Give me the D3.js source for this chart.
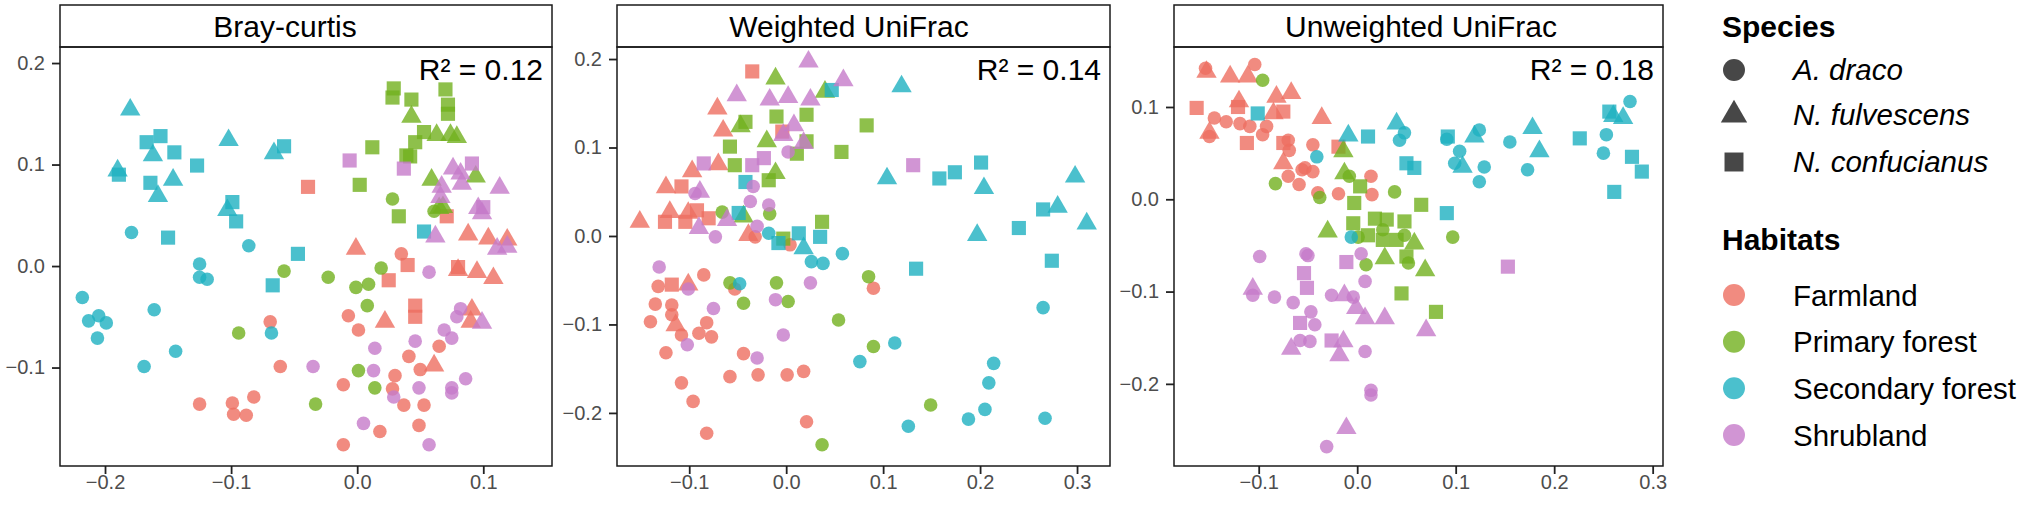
<!DOCTYPE html>
<html>
<head>
<meta charset="utf-8">
<script src="https://cdn.jsdelivr.net/npm/d3@7"></script>
<style>
  body { margin: 0; background: #fff; }
  svg { display: block; font-family: "Liberation Sans", Arial, sans-serif; }
</style>
</head>
<body>
<svg id="chart" width="2032" height="509"></svg>
<script>
// categories
const habitats = ["Farmland", "Primary forest", "Secondary forest", "Shrubland"];
const habitatColors = ["#EE6E60", "#72B01E", "#1EB0C0", "#C67BC9"];
const species = ["A. draco", "N. fulvescens", "N. confucianus"];
const speciesCodes = ["c", "t", "s"]; // circle, triangle, square

const panelTitles = ["Bray-curtis", "Weighted UniFrac", "Unweighted UniFrac"];
const r2Values = ["0.12", "0.14", "0.18"];
const xTickValues = [[-0.2, -0.1, 0, 0.1], [-0.1, 0, 0.1, 0.2, 0.3], [-0.1, 0, 0.1, 0.2, 0.3]];
const yTickValues = [[-0.1, 0, 0.1, 0.2], [-0.2, -0.1, 0, 0.1, 0.2], [-0.2, -0.1, 0, 0.1]];

// ---- Bray-curtis: [x, y, species]
const brayFarmland = [
  [-0.125,-0.136,"c"],[-0.099,-0.135,"c"],[-0.098,-0.146,"c"],[-0.088,-0.147,"c"],[-0.082,-0.129,"c"],
  [-0.069,-0.055,"c"],[-0.061,-0.099,"c"],[0.035,0.012,"c"],[-0.007,-0.049,"c"],[0.001,-0.063,"c"],
  [0.041,-0.089,"c"],[0.065,-0.079,"c"],[0.050,-0.102,"c"],[0.030,-0.108,"c"],[0.028,-0.121,"c"],
  [0.037,-0.137,"c"],[0.053,-0.137,"c"],[-0.011,-0.117,"c"],[0.018,-0.163,"c"],[0.049,-0.157,"c"],
  [-0.011,-0.176,"c"],
  [-0.039,0.078,"s"],[0.040,0.001,"s"],[0.025,-0.014,"s"],[0.046,-0.039,"s"],[0.046,-0.050,"s"],
  [0.071,0.049,"s"],[0.080,-0.001,"s"],
  [-0.001,0.017,"t"],[0.022,-0.055,"t"],[0.061,-0.098,"t"],[0.088,0.031,"t"],[0.104,0.027,"t"],
  [0.119,0.026,"t"],[0.080,-0.004,"t"],[0.095,-0.006,"t"],[0.108,-0.012,"t"],[0.091,-0.043,"t"],
  [0.090,-0.055,"t"]
];
const brayPrimary = [
  [-0.094,-0.066,"c"],[-0.058,-0.005,"c"],[-0.023,-0.011,"c"],[-0.001,-0.021,"c"],[0.009,-0.018,"c"],
  [0.019,-0.002,"c"],[0.008,-0.039,"c"],[0.001,-0.103,"c"],[0.014,-0.120,"c"],[-0.033,-0.136,"c"],
  [0.028,0.066,"c"],[0.061,0.054,"c"],
  [0.029,0.175,"s"],[0.028,0.166,"s"],[0.043,0.164,"s"],[0.070,0.174,"s"],[0.072,0.159,"s"],
  [0.072,0.150,"s"],[0.053,0.132,"s"],[0.046,0.122,"s"],[0.012,0.117,"s"],[0.039,0.109,"s"],
  [0.042,0.108,"s"],[0.002,0.080,"s"],[0.033,0.049,"s"],
  [0.043,0.147,"t"],[0.063,0.129,"t"],[0.074,0.129,"t"],[0.079,0.127,"t"],[0.059,0.085,"t"],
  [0.065,0.057,"t"],[0.094,0.088,"t"],[0.068,0.058,"t"]
];
const braySecondary = [
  [-0.179,0.033,"c"],[-0.086,0.020,"c"],[-0.125,0.002,"c"],[-0.125,-0.011,"c"],[-0.119,-0.013,"c"],
  [-0.218,-0.031,"c"],[-0.161,-0.043,"c"],[-0.213,-0.054,"c"],[-0.205,-0.049,"c"],[-0.199,-0.056,"c"],
  [-0.206,-0.071,"c"],[-0.144,-0.084,"c"],[-0.169,-0.099,"c"],[-0.068,-0.066,"c"],
  [-0.167,0.122,"s"],[-0.156,0.128,"s"],[-0.145,0.112,"s"],[-0.189,0.090,"s"],[-0.127,0.099,"s"],
  [-0.164,0.082,"s"],[-0.099,0.063,"s"],[-0.096,0.044,"s"],[-0.150,0.028,"s"],[-0.058,0.118,"s"],
  [-0.047,0.012,"s"],[-0.067,-0.019,"s"],[0.053,0.034,"s"],
  [-0.180,0.154,"t"],[-0.162,0.109,"t"],[-0.190,0.094,"t"],[-0.102,0.124,"t"],[-0.146,0.085,"t"],
  [-0.158,0.069,"t"],[-0.103,0.055,"t"],[-0.066,0.111,"t"]
];
const brayShrubland = [
  [0.057,-0.006,"c"],[0.014,-0.081,"c"],[0.046,-0.074,"c"],[0.069,-0.063,"c"],[0.075,-0.071,"c"],
  [0.079,-0.050,"c"],[-0.035,-0.099,"c"],[0.013,-0.103,"c"],[0.029,-0.129,"c"],[0.049,-0.120,"c"],
  [0.075,-0.120,"c"],[0.005,-0.155,"c"],[0.057,-0.176,"c"],[0.082,-0.042,"c"],[0.086,-0.111,"c"],
  [0.075,-0.125,"c"],
  [-0.006,0.104,"s"],[0.037,0.096,"s"],[0.091,0.101,"s"],[0.100,0.058,"s"],
  [0.066,0.068,"t"],[0.062,0.029,"t"],[0.082,0.091,"t"],[0.076,0.096,"t"],[0.083,0.081,"t"],
  [0.113,0.077,"t"],[0.067,0.078,"t"],[0.096,0.057,"t"],[0.099,0.052,"t"],[0.111,0.017,"t"],
  [0.119,0.019,"t"],[0.099,-0.056,"t"]
];

// ---- Weighted UniFrac
const weightedFarmland = [
  [-0.132,-0.057,"c"],[-0.135,-0.077,"c"],[-0.140,-0.097,"c"],[-0.124,-0.132,"c"],[-0.032,-0.001,"c"],
  [0.004,-0.010,"c"],[-0.085,-0.044,"c"],[-0.118,-0.078,"c"],[-0.118,-0.089,"c"],[-0.108,-0.112,"c"],
  [-0.090,-0.110,"c"],[-0.082,-0.098,"c"],[-0.077,-0.114,"c"],[-0.053,-0.060,"c"],[-0.044,-0.133,"c"],
  [-0.058,-0.159,"c"],[-0.029,-0.157,"c"],[0.001,-0.157,"c"],[0.018,-0.153,"c"],[-0.108,-0.166,"c"],
  [-0.096,-0.187,"c"],[-0.082,-0.223,"c"],[0.021,-0.210,"c"],[0.090,-0.059,"c"],
  [-0.125,0.016,"s"],[-0.035,0.186,"s"],[-0.108,0.056,"s"],[-0.104,0.016,"s"],[-0.092,0.029,"s"],
  [-0.080,0.020,"s"],[-0.004,0.118,"s"],[-0.118,-0.055,"s"],
  [-0.151,0.016,"t"],[-0.124,0.055,"t"],[-0.071,0.144,"t"],[-0.065,0.119,"t"],[-0.070,0.081,"t"],
  [-0.097,0.073,"t"],[-0.120,0.027,"t"],[-0.101,0.026,"t"],[-0.039,0.001,"t"],[-0.101,-0.055,"t"],
  [-0.114,-0.101,"t"]
];
const weightedPrimary = [
  [-0.066,0.027,"c"],[-0.017,0.025,"c"],[-0.058,-0.053,"c"],[-0.044,-0.076,"c"],[-0.010,-0.053,"c"],
  [0.002,-0.074,"c"],[0.054,-0.095,"c"],[0.085,-0.046,"c"],[0.090,-0.125,"c"],[0.037,-0.236,"c"],
  [0.149,-0.191,"c"],
  [-0.042,0.129,"s"],[-0.010,0.135,"s"],[0.021,0.137,"s"],[0.083,0.125,"s"],[-0.058,0.101,"s"],
  [0.011,0.093,"s"],[0.021,0.107,"s"],[0.057,0.095,"s"],[-0.053,0.080,"s"],[-0.018,0.063,"s"],
  [0.037,0.016,"s"],[-0.003,-0.003,"s"],
  [-0.011,0.178,"t"],[0.040,0.163,"t"],[-0.047,0.124,"t"],[-0.020,0.107,"t"],[-0.011,0.071,"t"],
  [-0.044,0.022,"t"]
];
const weightedSecondary = [
  [-0.018,0.003,"c"],[0.026,-0.029,"c"],[0.038,-0.031,"c"],[0.058,-0.020,"c"],[-0.048,-0.054,"c"],
  [0.076,-0.142,"c"],[0.265,-0.081,"c"],[0.112,-0.121,"c"],[0.214,-0.144,"c"],[0.209,-0.166,"c"],
  [0.205,-0.196,"c"],[0.188,-0.207,"c"],[0.126,-0.215,"c"],[0.267,-0.206,"c"],
  [0.047,0.165,"s"],[-0.042,0.061,"s"],[-0.049,0.026,"s"],[-0.008,-0.008,"s"],[0.013,0.003,"s"],
  [0.035,-0.001,"s"],[0.158,0.065,"s"],[0.174,0.072,"s"],[0.201,0.083,"s"],[0.265,0.030,"s"],
  [0.240,0.009,"s"],[0.274,-0.028,"s"],[0.134,-0.037,"s"],
  [0.018,-0.014,"t"],[0.119,0.169,"t"],[0.104,0.065,"t"],[0.204,0.054,"t"],[0.298,0.067,"t"],
  [0.280,0.033,"t"],[0.310,0.014,"t"],[0.197,0.001,"t"]
];
const weightedShrubland = [
  [0.002,0.095,"c"],[-0.034,0.056,"c"],[-0.094,0.048,"c"],[-0.037,0.039,"c"],[-0.018,0.035,"c"],
  [-0.073,-0.001,"c"],[-0.030,0.011,"c"],[-0.131,-0.035,"c"],[0.025,-0.053,"c"],[-0.101,-0.060,"c"],
  [-0.011,-0.072,"c"],[-0.075,-0.082,"c"],[-0.003,-0.112,"c"],[-0.102,-0.123,"c"],[-0.030,-0.138,"c"],
  [-0.085,0.082,"s"],[-0.035,0.080,"s"],[-0.023,0.088,"s"],[0.131,0.080,"s"],
  [0.023,0.197,"t"],[0.059,0.176,"t"],[-0.051,0.159,"t"],[-0.017,0.154,"t"],[0.002,0.157,"t"],
  [0.025,0.154,"t"],[0.008,0.125,"t"],[-0.003,0.114,"t"],[0.018,0.105,"t"],[-0.089,0.050,"t"],
  [-0.061,0.018,"t"],[-0.090,0.009,"t"]
];

// ---- Unweighted UniFrac
const unweightedFarmland = [
  [-0.154,0.142,"c"],[-0.104,0.146,"c"],[-0.145,0.088,"c"],[-0.133,0.084,"c"],[-0.150,0.068,"c"],
  [-0.119,0.082,"c"],[-0.109,0.079,"c"],[-0.096,0.070,"c"],[-0.092,0.079,"c"],[-0.070,0.064,"c"],
  [-0.069,0.053,"c"],[-0.056,0.032,"c"],[-0.070,0.025,"c"],[-0.059,0.016,"c"],[-0.045,0.059,"c"],
  [-0.053,0.034,"c"],[-0.045,0.030,"c"],[-0.040,0.007,"c"],[-0.019,0.006,"c"],[0.014,0.025,"c"],
  [0.015,0.005,"c"],
  [-0.163,0.099,"s"],[-0.121,0.100,"s"],[-0.112,0.061,"s"],[-0.075,0.095,"s"],[-0.075,0.061,"s"],
  [-0.019,0.057,"s"],
  [-0.153,0.138,"t"],[-0.129,0.133,"t"],[-0.111,0.133,"t"],[-0.150,0.072,"t"],[-0.120,0.106,"t"],
  [-0.082,0.111,"t"],[-0.067,0.115,"t"],[-0.085,0.093,"t"],[-0.075,0.039,"t"],[-0.036,0.088,"t"]
];
const unweightedPrimary = [
  [-0.096,0.129,"c"],[-0.083,0.017,"c"],[-0.038,0.002,"c"],[-0.008,0.025,"c"],[0.038,0.008,"c"],
  [0.001,-0.041,"c"],[0.026,-0.033,"c"],[0.048,-0.039,"c"],[0.097,-0.041,"c"],[0.009,-0.071,"c"],
  [0.052,-0.069,"c"],
  [0.003,0.014,"s"],[-0.003,-0.004,"s"],[0.065,-0.006,"s"],[-0.004,-0.026,"s"],[0.018,-0.021,"s"],
  [0.030,-0.022,"s"],[0.048,-0.024,"s"],[0.011,-0.039,"s"],[0.026,-0.044,"s"],[0.040,-0.044,"s"],
  [0.050,-0.062,"s"],[0.045,-0.102,"s"],[0.080,-0.122,"s"],
  [-0.014,0.052,"t"],[-0.013,0.028,"t"],[-0.030,-0.035,"t"],[0.058,-0.048,"t"],[0.028,-0.064,"t"],
  [0.069,-0.077,"t"]
];
const unweightedSecondary = [
  [-0.041,0.046,"c"],[0.043,0.064,"c"],[0.048,0.072,"c"],[-0.006,-0.041,"c"],[0.091,0.065,"c"],
  [0.104,0.052,"c"],[0.099,0.039,"c"],[0.124,0.075,"c"],[0.129,0.035,"c"],[0.124,0.019,"c"],
  [0.155,0.062,"c"],[0.173,0.032,"c"],[0.277,0.106,"c"],[0.253,0.070,"c"],[0.250,0.050,"c"],
  [-0.101,0.093,"s"],[0.011,0.068,"s"],[0.050,0.039,"s"],[0.058,0.034,"s"],[0.091,-0.015,"s"],
  [0.092,0.068,"s"],[0.256,0.095,"s"],[0.226,0.066,"s"],[0.279,0.046,"s"],[0.289,0.030,"s"],
  [0.261,0.008,"s"],
  [-0.009,0.069,"t"],[0.040,0.082,"t"],[0.107,0.035,"t"],[0.119,0.068,"t"],[0.178,0.077,"t"],
  [0.185,0.052,"t"],[0.260,0.090,"t"],[0.270,0.088,"t"]
];
const unweightedShrubland = [
  [-0.099,-0.062,"c"],[-0.106,-0.104,"c"],[-0.084,-0.106,"c"],[-0.065,-0.112,"c"],[-0.052,-0.059,"c"],
  [-0.058,-0.153,"c"],[-0.048,-0.154,"c"],[-0.050,-0.061,"c"],[0.004,-0.059,"c"],[0.008,-0.089,"c"],
  [-0.026,-0.104,"c"],[-0.004,-0.106,"c"],[-0.047,-0.122,"c"],[-0.043,-0.136,"c"],[0.008,-0.165,"c"],
  [0.014,-0.207,"c"],[0.014,-0.212,"c"],[-0.031,-0.268,"c"],
  [-0.054,-0.080,"s"],[-0.051,-0.096,"s"],[-0.058,-0.134,"s"],[-0.011,-0.068,"s"],[-0.026,-0.153,"s"],
  [0.153,-0.073,"s"],
  [-0.106,-0.097,"t"],[-0.067,-0.162,"t"],[-0.013,-0.104,"t"],[-0.001,-0.118,"t"],[0.008,-0.129,"t"],
  [0.028,-0.129,"t"],[-0.014,-0.154,"t"],[-0.018,-0.169,"t"],[0.070,-0.142,"t"],[-0.011,-0.248,"t"]
];

const panelData = [
  [brayFarmland, brayPrimary, braySecondary, brayShrubland],
  [weightedFarmland, weightedPrimary, weightedSecondary, weightedShrubland],
  [unweightedFarmland, unweightedPrimary, unweightedSecondary, unweightedShrubland]
];

// ---- layout
const plotTop = 47, plotBottom = 466, stripTop = 5;
const panels = [
  { left: 60,  right: 552,  xDom: [-0.2357, 0.1545], yDom: [-0.197, 0.2158], titleX: 285 },
  { left: 617, right: 1110, xDom: [-0.1745, 0.334],  yDom: [-0.26, 0.2136],  titleX: 849 },
  { left: 1174, right: 1663, xDom: [-0.186, 0.3105], yDom: [-0.289, 0.165],  titleX: 1421 }
];
const pointAlpha = 0.8;
const symbolType = { c: d3.symbolCircle, t: d3.symbolTriangle, s: d3.symbolSquare };
const symbolSize = { c: 145, t: 180, s: 200 };
const fmt = d3.format(".1f");

const svg = d3.select("#chart");

panels.forEach((p, i) => {
  const x = d3.scaleLinear().domain(p.xDom).range([p.left, p.right]);
  const y = d3.scaleLinear().domain(p.yDom).range([plotBottom, plotTop]);
  const g = svg.append("g");

  // strip
  g.append("rect")
   .attr("x", p.left).attr("y", stripTop)
   .attr("width", p.right - p.left).attr("height", plotTop - stripTop)
   .attr("fill", "#fff").attr("stroke", "#1a1a1a").attr("stroke-width", 1.5);
  g.append("text")
   .attr("x", p.titleX).attr("y", 37)
   .attr("text-anchor", "middle")
   .attr("font-size", 30).attr("fill", "#000")
   .text(panelTitles[i]);

  // axes
  const xAxis = g.append("g")
    .attr("transform", `translate(0,${plotBottom})`)
    .call(d3.axisBottom(x).tickValues(xTickValues[i]).tickFormat(fmt).tickSize(8).tickPadding(1));
  const yAxis = g.append("g")
    .attr("transform", `translate(${p.left},0)`)
    .call(d3.axisLeft(y).tickValues(yTickValues[i]).tickFormat(fmt).tickSize(8).tickPadding(7));
  [xAxis, yAxis].forEach(ax => {
    ax.select(".domain").remove();
    ax.selectAll(".tick line").attr("stroke", "#222").attr("stroke-width", 1.8);
    ax.selectAll(".tick text").attr("font-size", 20).attr("fill", "#4d4d4d")
      .attr("font-family", "Liberation Sans, Arial, sans-serif");
  });

  // points
  panelData[i].forEach((pts, h) => {
    g.append("g").selectAll("path")
     .data(pts)
     .join("path")
     .attr("transform", d => `translate(${x(d[0])},${y(d[1])})`)
     .attr("d", d => d3.symbol().type(symbolType[d[2]]).size(symbolSize[d[2]])())
     .attr("fill", habitatColors[h])
     .attr("fill-opacity", pointAlpha);
  });

  // border
  g.append("rect")
   .attr("x", p.left).attr("y", plotTop)
   .attr("width", p.right - p.left).attr("height", plotBottom - plotTop)
   .attr("fill", "none").attr("stroke", "#1a1a1a").attr("stroke-width", 1.5);

  g.append("text")
   .attr("x", p.right - 9).attr("y", 80)
   .attr("text-anchor", "end")
   .attr("font-size", 30).attr("fill", "#000")
   .text(`R\u00B2 = ${r2Values[i]}`);
});

// ---- legend
const legend = svg.append("g");
const symX = 1734, textX = 1793;
legend.append("text")
  .attr("x", 1722).attr("y", 37)
  .attr("font-size", 30).attr("font-weight", "bold").text("Species");
const speciesY = [70, 115, 162];
const legendSymSize = { c: 380, t: 300, s: 360 };
species.forEach((s, k) => {
  const code = speciesCodes[k];
  legend.append("path")
    .attr("transform", `translate(${symX},${speciesY[k]})`)
    .attr("d", d3.symbol().type(symbolType[code]).size(legendSymSize[code])())
    .attr("fill", "#000").attr("fill-opacity", 0.72);
  legend.append("text")
    .attr("x", textX).attr("y", speciesY[k] + 10)
    .attr("font-size", 29.5).attr("font-style", "italic").text(s);
});

legend.append("text")
  .attr("x", 1722).attr("y", 250)
  .attr("font-size", 30).attr("font-weight", "bold").text("Habitats");
const habitatY = [295, 341.7, 388.3, 435];
habitats.forEach((h, k) => {
  legend.append("path")
    .attr("transform", `translate(${symX},${habitatY[k]})`)
    .attr("d", d3.symbol().type(d3.symbolCircle).size(380)())
    .attr("fill", habitatColors[k]).attr("fill-opacity", pointAlpha);
  legend.append("text")
    .attr("x", textX).attr("y", habitatY[k] + 10.5)
    .attr("font-size", 29.5).text(h);
});
</script>
</body>
</html>
